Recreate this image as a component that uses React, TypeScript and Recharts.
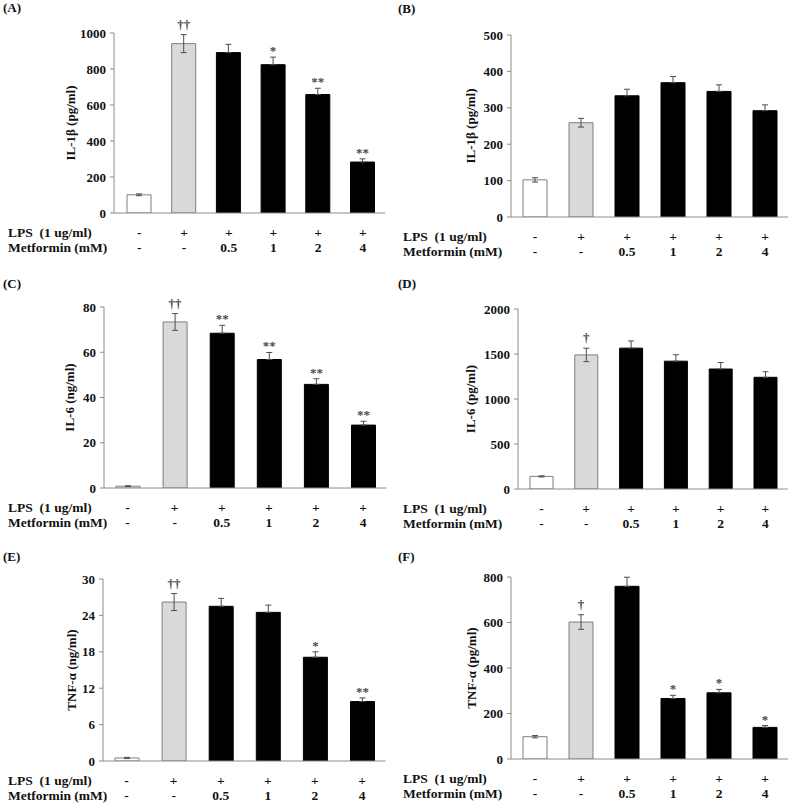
import React from 'react';
import { BarChart, Bar, XAxis, YAxis, ErrorBar, Cell, LabelList } from 'recharts';

// ---- shared categories / tick labels ----
const groups = ['ctrl', 'lps', 'm05', 'm1', 'm2', 'm4'];
const lpsLabels = ['-', '+', '+', '+', '+', '+'];
const metforminLabels = ['-', '-', '0.5', '1', '2', '4'];
const lpsHeader = 'LPS\u00a0\u00a0(1 ug/ml)';
const metforminHeader = 'Metformin (mM)';

// ---- (A) IL-1β pg/ml ----
const il1bA = [101, 941, 891, 824, 658, 283];
const il1bAErr = [5, 50, 46, 42, 35, 18];
const il1bAMarks = ['', '††', '', '*', '**', '**'];
const ticksA = [0, 200, 400, 600, 800, 1000];

// ---- (B) IL-1β pg/ml ----
const il1bB = [102, 259, 333, 369, 345, 292];
const il1bBErr = [6, 12, 18, 17, 18, 16];
const il1bBMarks = ['', '', '', '', '', ''];
const ticksB = [0, 100, 200, 300, 400, 500];

// ---- (C) IL-6 ng/ml ----
const il6C = [0.8, 73.4, 68.4, 56.8, 45.8, 27.8];
const il6CErr = [0.2, 3.7, 3.5, 3.1, 2.5, 1.7];
const il6CMarks = ['', '††', '**', '**', '**', '**'];
const ticksC = [0, 20, 40, 60, 80];

// ---- (D) IL-6 pg/ml ----
const il6D = [140, 1490, 1565, 1420, 1333, 1241];
const il6DErr = [6, 75, 80, 72, 72, 62];
const il6DMarks = ['', '†', '', '', '', ''];
const ticksD = [0, 500, 1000, 1500, 2000];

// ---- (E) TNF-α ng/ml ----
const tnfE = [0.5, 26.2, 25.5, 24.5, 17.1, 9.8];
const tnfEErr = [0.1, 1.4, 1.3, 1.2, 0.9, 0.6];
const tnfEMarks = ['', '††', '', '', '*', '**'];
const ticksE = [0, 6, 12, 18, 24, 30];

// ---- (F) TNF-α pg/ml ----
const tnfF = [98, 602, 759, 266, 291, 139];
const tnfFErr = [5, 32, 40, 14, 15, 8];
const tnfFMarks = ['', '†', '', '*', '*', '*'];
const ticksF = [0, 200, 400, 600, 800];

const barFills = ['#ffffff', '#d9d9d9', '#000000', '#000000', '#000000', '#000000'];
const barStrokes = ['#7f7f7f', '#7f7f7f', '#000000', '#000000', '#000000', '#000000'];

const FONT = "'Liberation Serif', 'Times New Roman', serif";
const AXIS_GRAY = '#8c8c8c';

type PanelProps = {
  left: number;
  top: number;
  width: number;
  height: number;
  plotTop: number;
  zeroY: number;
  axisX: number;
  padLeft: number;
  bandWidth: number;
  barSize: number;
  values: number[];
  errs: number[];
  marks: string[];
  ticks: number[];
  yLabel: string;
  yLabelX: number;
  panelLabel: string;
  panelLabelX: number;
  panelLabelY: number;
};

function Panel(p: PanelProps) {
  // on black bars only the upper whisker shows (lower one is hidden inside the bar)
  const data = groups.map((g, i) => ({
    group: g,
    value: p.values[i],
    err: barFills[i] === '#000000' ? [0, p.errs[i]] : [p.errs[i], p.errs[i]],
    mark: p.marks[i],
  }));
  const xAxisHeight = 40;
  const plotRight = p.axisX + p.padLeft + p.bandWidth * 6;
  const domainMax = p.ticks[p.ticks.length - 1];
  const pxPerUnit = (p.zeroY - p.plotTop) / domainMax;
  const margin = {
    top: p.plotTop,
    left: 0,
    right: p.width - plotRight,
    bottom: p.height - p.zeroY - xAxisHeight,
  };

  const renderTick = (props: any) => {
    const { x, y, index } = props;
    const common = {
      fontFamily: FONT,
      fontSize: 13.5,
      fontWeight: 'bold' as const,
      fill: '#111',
    };
    return (
      <g>
        <text x={x} y={y + 24} textAnchor="middle" {...common}>{lpsLabels[index]}</text>
        <text x={x} y={y + 39} textAnchor="middle" {...common}>{metforminLabels[index]}</text>
        {index === 0 && (
          <>
            <text x={8} y={y + 24} textAnchor="start" {...common}>{lpsHeader}</text>
            <text x={8} y={y + 39} textAnchor="start" {...common}>{metforminHeader}</text>
          </>
        )}
      </g>
    );
  };

  const renderMark = (props: any) => {
    const idx = props.index;
    const mark = p.marks[idx];
    if (!mark) return null;
    const vb = props.viewBox || props;
    const x = (props.x ?? vb.x) + (props.width ?? vb.width) / 2;
    const errTop = p.zeroY - (p.values[idx] + p.errs[idx]) * pxPerUnit;
    const isDagger = mark.indexOf('†') >= 0;
    return (
      <text
        x={x}
        y={errTop - (isDagger ? 6 : 2)}
        textAnchor="middle"
        fontFamily={FONT}
        fontSize={13}
        fontWeight="bold"
        fill="#4a4a4a"
      >
        {mark}
      </text>
    );
  };

  const yMid = (p.plotTop + p.zeroY) / 2;

  return (
    <div style={{ position: 'absolute', left: p.left, top: p.top, width: p.width, height: p.height }}>
      <BarChart width={p.width} height={p.height} data={data} margin={margin}>
        <XAxis
          dataKey="group"
          interval={0}
          height={xAxisHeight}
          padding={{ left: p.padLeft, right: 0 }}
          axisLine={{ stroke: AXIS_GRAY, strokeWidth: 1 }}
          tickLine={false}
          tickSize={0}
          tickMargin={0}
          tick={renderTick}
        />
        <YAxis
          width={p.axisX}
          domain={[0, domainMax]}
          ticks={p.ticks}
          allowDataOverflow
          axisLine={{ stroke: AXIS_GRAY, strokeWidth: 1 }}
          tickLine={{ stroke: AXIS_GRAY, strokeWidth: 1 }}
          tickSize={4}
          tickMargin={4}
          tick={{ fontFamily: FONT, fontSize: 13, fontWeight: 'bold', fill: '#111' }}
        />
        <Bar dataKey="value" barSize={p.barSize} isAnimationActive={false}>
          {data.map((d, i) => (
            <Cell key={d.group} fill={barFills[i]} stroke={barStrokes[i]} strokeWidth={1} />
          ))}
          <ErrorBar dataKey="err" width={3} stroke="#4d4d4d" strokeWidth={1} direction="y" />
          <LabelList dataKey="mark" content={renderMark} />
        </Bar>
      </BarChart>
      <svg
        width={p.width}
        height={p.height}
        style={{ position: 'absolute', left: 0, top: 0, pointerEvents: 'none' }}
      >
        <text
          x={p.panelLabelX}
          y={p.panelLabelY}
          fontFamily={FONT}
          fontSize={13}
          fontWeight="bold"
          fill="#111"
        >
          {p.panelLabel}
        </text>
        <text
          x={p.yLabelX}
          y={yMid}
          transform={`rotate(-90, ${p.yLabelX}, ${yMid})`}
          textAnchor="middle"
          dominantBaseline="central"
          fontFamily={FONT}
          fontSize={13}
          fontWeight="bold"
          fill="#111"
        >
          {p.yLabel}
        </text>
      </svg>
    </div>
  );
}

export default function App() {
  return (
    <div style={{ position: 'absolute', left: 0, top: 0, width: 791, height: 804, background: '#fff' }}>
      <Panel
        left={0} top={0} width={395} height={265}
        plotTop={33} zeroY={213} axisX={114} padLeft={3} bandWidth={44.7} barSize={24}
        values={il1bA} errs={il1bAErr} marks={il1bAMarks} ticks={ticksA}
        yLabel="IL-1β (pg/ml)" yLabelX={70}
        panelLabel="(A)" panelLabelX={3} panelLabelY={12}
      />
      <Panel
        left={395} top={0} width={396} height={265}
        plotTop={35} zeroY={217} axisX={116} padLeft={1} bandWidth={46} barSize={24}
        values={il1bB} errs={il1bBErr} marks={il1bBMarks} ticks={ticksB}
        yLabel="IL-1β (pg/ml)" yLabelX={75}
        panelLabel="(B)" panelLabelX={3} panelLabelY={13}
      />
      <Panel
        left={0} top={265} width={395} height={265}
        plotTop={42} zeroY={223} axisX={104} padLeft={0} bandWidth={47.1} barSize={24}
        values={il6C} errs={il6CErr} marks={il6CMarks} ticks={ticksC}
        yLabel="IL-6 (ng/ml)" yLabelX={69}
        panelLabel="(C)" panelLabelX={3} panelLabelY={23}
      />
      <Panel
        left={395} top={265} width={396} height={265}
        plotTop={44} zeroY={224} axisX={123} padLeft={1} bandWidth={44.8} barSize={23}
        values={il6D} errs={il6DErr} marks={il6DMarks} ticks={ticksD}
        yLabel="IL-6 (pg/ml)" yLabelX={75}
        panelLabel="(D)" panelLabelX={3} panelLabelY={23}
      />
      <Panel
        left={0} top={530} width={395} height={274}
        plotTop={49} zeroY={231} axisX={103} padLeft={0} bandWidth={47.1} barSize={24}
        values={tnfE} errs={tnfEErr} marks={tnfEMarks} ticks={ticksE}
        yLabel="TNF-α (ng/ml)" yLabelX={71}
        panelLabel="(E)" panelLabelX={3} panelLabelY={31}
      />
      <Panel
        left={395} top={530} width={396} height={274}
        plotTop={47} zeroY={229} axisX={116} padLeft={1} bandWidth={46} barSize={24}
        values={tnfF} errs={tnfFErr} marks={tnfFMarks} ticks={ticksF}
        yLabel="TNF-α (pg/ml)" yLabelX={76}
        panelLabel="(F)" panelLabelX={3} panelLabelY={31}
      />
    </div>
  );
}
